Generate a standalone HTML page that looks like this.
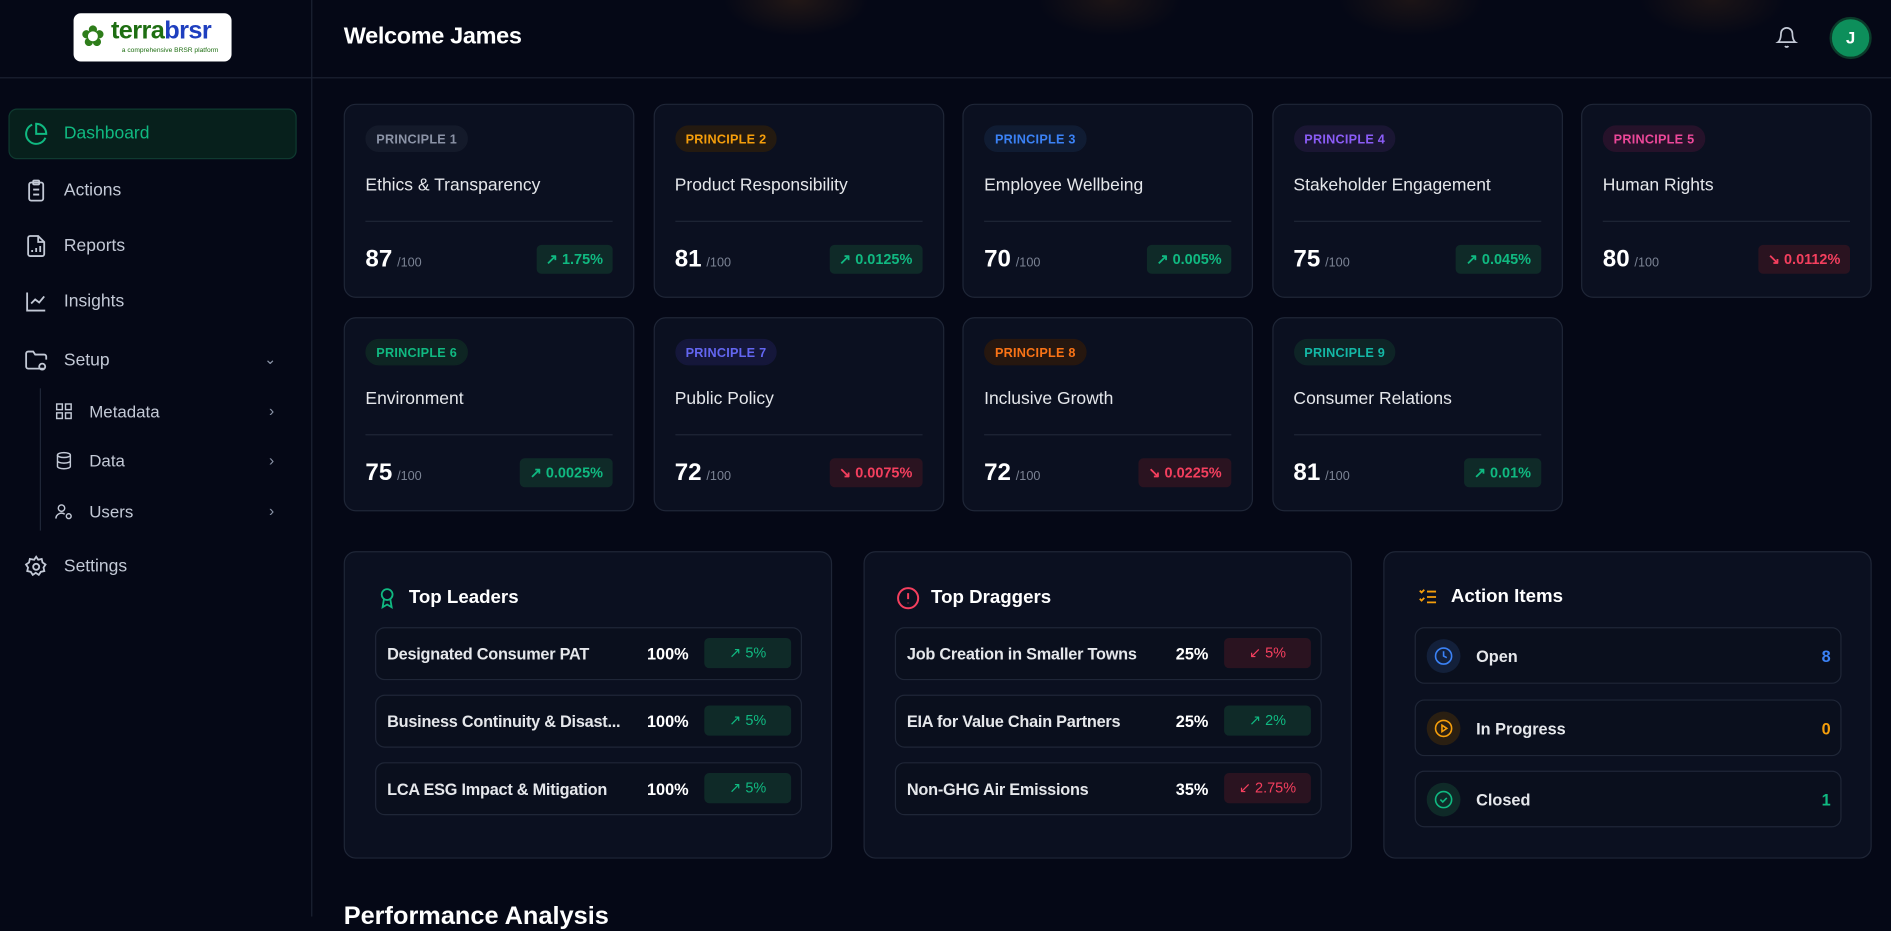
<!DOCTYPE html>
<html><head><meta charset="utf-8">
<style>
*{box-sizing:border-box;margin:0;padding:0}
html,body{width:1891px;height:915px;overflow:hidden;background:#050816;font-family:"Liberation Sans",sans-serif;color:#e5e7eb}
#root{position:absolute;left:0;top:0;width:1568px;height:760px;transform:scale(1.2060);transform-origin:0 0;background:#050816}
.abs{position:absolute}
.side{left:0;top:0;width:259px;height:760px;border-right:1px solid #1c2232}
.hdr{left:259px;top:0;width:1309px;height:65px;border-bottom:1px solid #1c2232}
.sidehdr{left:0;top:0;width:259px;height:65px;border-bottom:1px solid #1c2232}
.nav{position:absolute;left:20px;font-size:14.5px;color:#c3c9d6;display:flex;align-items:center}
.nav svg{margin-right:13px}
.card{position:absolute;width:241px;height:161px;background:#0b1020;border:1px solid #1f2637;border-radius:10px}
.badge{position:absolute;left:17px;top:17px;height:22px;padding:0 8px;border-radius:11px;font-size:10.5px;font-weight:bold;line-height:22px;letter-spacing:.2px}
.ctitle{position:absolute;left:17px;top:59px;font-size:14.5px;color:#e5e7eb}
.div{position:absolute;left:17px;right:17px;top:96px;border-top:1px solid #1f2637}
.score{position:absolute;left:17px;top:117px;font-size:20px;font-weight:bold;color:#fff}
.score span{font-size:10.5px;font-weight:normal;color:#7b8394;margin-left:4px}
.chg{position:absolute;right:17px;top:116px;height:24px;padding:0 8px;border-radius:4px;font-size:12px;font-weight:bold;line-height:24px}
.up{background:#0f2a28;color:#10b981}
.dn{background:#2a1320;color:#f43f5e}
.panel{position:absolute;top:457px;width:405px;height:255px;background:#0b1020;border:1px solid #1f2637;border-radius:10px}
.ptitle{position:absolute;left:26px;top:28px;font-size:15.5px;font-weight:bold;color:#fff;display:flex;align-items:center}
.ptitle svg{margin-right:9px}
.row{position:absolute;left:25px;width:354px;height:44px;border:1px solid #1f2637;border-radius:8px;background:#0a0f1d}
.rname{position:absolute;left:9px;top:14px;font-size:13.5px;font-weight:bold;color:#e5e7eb;white-space:nowrap;letter-spacing:-0.2px}
.rpct{position:absolute;right:93px;top:14px;font-size:13.5px;font-weight:bold;color:#fff}
.rchg{position:absolute;right:8px;top:8px;width:72px;height:25px;border-radius:4px;font-size:12px;line-height:25px;text-align:center}
.arow{position:absolute;left:25px;width:354px;height:47px;border:1px solid #1f2637;border-radius:8px;background:#0a0f1d}
.aic{position:absolute;left:9px;top:9px;width:28px;height:28px;border-radius:14px;display:flex;align-items:center;justify-content:center}
.alab{position:absolute;left:50px;top:16px;font-size:13.5px;font-weight:bold;color:#e5e7eb}
.aval{position:absolute;right:8px;top:16px;font-size:13.5px;font-weight:bold}
</style></head><body>
<div id="root">
<div class="abs" style="left:560px;top:-40px;width:1000px;height:80px;background:radial-gradient(ellipse 60px 30px at 100px 40px,rgba(120,70,20,.25),transparent),radial-gradient(ellipse 60px 30px at 360px 40px,rgba(120,70,20,.2),transparent),radial-gradient(ellipse 60px 30px at 610px 40px,rgba(120,70,20,.2),transparent),radial-gradient(ellipse 60px 30px at 860px 40px,rgba(120,70,20,.2),transparent)"></div>
<div class="abs side"></div>
<div class="abs sidehdr"></div>
<div class="abs" style="left:61px;top:11px;width:131px;height:40px;background:#fff;border-radius:6px">
 <div class="abs" style="left:6px;top:7px;width:22px;height:26px;color:#2e7d1a;font-size:24px;line-height:26px">✿</div>
 <div class="abs" style="left:31px;top:3px;font-size:21px;font-weight:bold;letter-spacing:-0.5px"><span style="color:#1e6e12">terra</span><span style="color:#1f3fbf">brsr</span></div>
 <div class="abs" style="left:40px;top:28px;font-size:5.5px;color:#1e6e12;white-space:nowrap">a comprehensive BRSR platform</div>
</div>
<div class="abs hdr"></div>
<div class="abs" style="left:285px;top:19px;font-size:19.5px;font-weight:bold;color:#fff;letter-spacing:-0.3px">Welcome James</div>
<svg class="abs" style="left:1472px;top:21px" width="19" height="20" viewBox="0 0 24 24" fill="none" stroke="#c3c9d6" stroke-width="1.8"><path d="M6 8a6 6 0 0 1 12 0c0 7 3 9 3 9H3s3-2 3-9"/><path d="M10.3 21a1.9 1.9 0 0 0 3.4 0"/></svg>
<div class="abs" style="left:1517px;top:14px;width:35px;height:35px;border-radius:18px;background:#0d8f5b;border:2px solid #0b3b2a;color:#fff;font-weight:bold;font-size:14px;text-align:center;line-height:31px">J</div>

<div class="abs" style="left:7px;top:90px;width:239px;height:42px;background:#07201c;border:1px solid #0f3a30;border-radius:7px"></div>
<div class="nav" style="top:101px;color:#10b981"><svg width="20" height="20" viewBox="0 0 24 24" fill="none" stroke="#10b981" stroke-width="2"><path d="M21.2 15.9A10 10 0 1 1 8 2.8"/><path d="M22 12A10 10 0 0 0 12 2v10z"/></svg>Dashboard</div>
<div class="nav" style="top:148px"><svg width="20" height="20" viewBox="0 0 24 24" fill="none" stroke="#c3c9d6" stroke-width="1.8"><rect x="5" y="4" width="14" height="18" rx="2"/><rect x="9" y="2" width="6" height="4" rx="1"/><path d="M9 11h6M9 16h6"/></svg>Actions</div>
<div class="nav" style="top:194px"><svg width="20" height="20" viewBox="0 0 24 24" fill="none" stroke="#c3c9d6" stroke-width="1.8"><path d="M14 2H6a2 2 0 0 0-2 2v16a2 2 0 0 0 2 2h12a2 2 0 0 0 2-2V8z"/><path d="M14 2v6h6M8 18v-2M12 18v-4M16 18v-6"/></svg>Reports</div>
<div class="nav" style="top:240px"><svg width="20" height="20" viewBox="0 0 24 24" fill="none" stroke="#c3c9d6" stroke-width="1.8"><path d="M3 3v18h18"/><path d="M7 14l4-4 4 3 5-6"/></svg>Insights</div>
<div class="nav" style="top:289px"><svg width="20" height="20" viewBox="0 0 24 24" fill="none" stroke="#c3c9d6" stroke-width="1.8"><path d="M20 20H4a2 2 0 0 1-2-2V5a2 2 0 0 1 2-2h5l2 3h9a2 2 0 0 1 2 2v3"/><circle cx="18" cy="18" r="3"/></svg>Setup</div>
<div class="abs" style="left:219px;top:291px;color:#8a93a6;font-size:12px">⌄</div>
<div class="abs" style="left:33px;top:322px;width:1px;height:118px;background:#1f2637"></div>
<div class="nav" style="left:45px;top:333px;font-size:14px"><svg width="16" height="16" viewBox="0 0 24 24" fill="none" stroke="#c3c9d6" stroke-width="1.8"><rect x="3" y="3" width="7" height="7"/><rect x="14" y="3" width="7" height="7"/><rect x="3" y="14" width="7" height="7"/><rect x="14" y="14" width="7" height="7"/></svg>Metadata</div>
<div class="nav" style="left:45px;top:374px;font-size:14px"><svg width="16" height="16" viewBox="0 0 24 24" fill="none" stroke="#c3c9d6" stroke-width="1.8"><ellipse cx="12" cy="5" rx="8" ry="3"/><path d="M4 5v14c0 1.7 3.6 3 8 3s8-1.3 8-3V5M4 12c0 1.7 3.6 3 8 3s8-1.3 8-3"/></svg>Data</div>
<div class="nav" style="left:45px;top:416px;font-size:14px"><svg width="16" height="16" viewBox="0 0 24 24" fill="none" stroke="#c3c9d6" stroke-width="1.8"><circle cx="9" cy="8" r="4"/><path d="M2 21a7 7 0 0 1 11-5.5"/><circle cx="18" cy="18" r="3"/></svg>Users</div>
<div class="abs" style="left:223px;top:333px;color:#8a93a6;font-size:13px">›</div>
<div class="abs" style="left:223px;top:374px;color:#8a93a6;font-size:13px">›</div>
<div class="abs" style="left:223px;top:416px;color:#8a93a6;font-size:13px">›</div>
<div class="nav" style="top:460px"><svg width="20" height="20" viewBox="0 0 24 24" fill="none" stroke="#c3c9d6" stroke-width="1.8"><circle cx="12" cy="12" r="3"/><path d="M12 2l2 3 3.5-.8.8 3.5 3 2-2 3 .8 3.5-3.5.8-2 3-3-2-3 2-2-3-3.5-.8.8-3.5-2-3 3-2 .8-3.5L10 5z"/></svg>Settings</div>

<div class="panel" style="left:285px">
 <div class="ptitle"><svg width="18" height="20" viewBox="0 0 24 24" fill="none" stroke="#10b981" stroke-width="2"><circle cx="12" cy="8" r="6"/><path d="M8.5 13L7 22l5-3 5 3-1.5-9"/></svg>Top Leaders</div>
 <div class="row" style="top:62px"><div class="rname">Designated Consumer PAT</div><div class="rpct">100%</div><div class="rchg up">↗ 5%</div></div>
 <div class="row" style="top:118px"><div class="rname">Business Continuity &amp; Disast...</div><div class="rpct">100%</div><div class="rchg up">↗ 5%</div></div>
 <div class="row" style="top:174px"><div class="rname">LCA ESG Impact &amp; Mitigation</div><div class="rpct">100%</div><div class="rchg up">↗ 5%</div></div>
</div>
<div class="panel" style="left:716px">
 <div class="ptitle"><svg width="20" height="20" viewBox="0 0 24 24" fill="none" stroke="#f43f5e" stroke-width="2"><circle cx="12" cy="12" r="10"/><path d="M12 7v6M12 16.5v.5"/></svg>Top Draggers</div>
 <div class="row" style="top:62px"><div class="rname">Job Creation in Smaller Towns</div><div class="rpct">25%</div><div class="rchg dn">↙ 5%</div></div>
 <div class="row" style="top:118px"><div class="rname">EIA for Value Chain Partners</div><div class="rpct">25%</div><div class="rchg up">↗ 2%</div></div>
 <div class="row" style="top:174px"><div class="rname">Non-GHG Air Emissions</div><div class="rpct">35%</div><div class="rchg dn">↙ 2.75%</div></div>
</div>
<div class="panel" style="left:1147px">
 <div class="ptitle"><svg width="20" height="18" viewBox="0 0 24 24" fill="none" stroke="#f59e0b" stroke-width="2"><path d="M3 5l2 2 3-3M3 14l2 2 3-3M11 6h10M11 12h10M11 18h10"/></svg>Action Items</div>
 <div class="arow" style="top:62px"><div class="aic" style="background:#13203a"><svg width="16" height="16" viewBox="0 0 24 24" fill="none" stroke="#3b82f6" stroke-width="2"><circle cx="12" cy="12" r="10"/><path d="M12 6v6l4 2"/></svg></div><div class="alab">Open</div><div class="aval" style="color:#3b82f6">8</div></div>
 <div class="arow" style="top:122px"><div class="aic" style="background:#2a1f12"><svg width="16" height="16" viewBox="0 0 24 24" fill="none" stroke="#f59e0b" stroke-width="2"><circle cx="12" cy="12" r="10"/><path d="M10 8l6 4-6 4z"/></svg></div><div class="alab">In Progress</div><div class="aval" style="color:#f59e0b">0</div></div>
 <div class="arow" style="top:181px"><div class="aic" style="background:#0f2a28"><svg width="16" height="16" viewBox="0 0 24 24" fill="none" stroke="#10b981" stroke-width="2"><circle cx="12" cy="12" r="10"/><path d="M8 12l3 3 5-5"/></svg></div><div class="alab">Closed</div><div class="aval" style="color:#10b981">1</div></div>
</div>
<div class="abs" style="left:285px;top:748px;font-size:21px;font-weight:bold;color:#fff">Performance Analysis</div>
</div>
<script>
const principles=["PRINCIPLE 1","PRINCIPLE 2","PRINCIPLE 3","PRINCIPLE 4","PRINCIPLE 5","PRINCIPLE 6","PRINCIPLE 7","PRINCIPLE 8","PRINCIPLE 9"];
const titles=["Ethics & Transparency","Product Responsibility","Employee Wellbeing","Stakeholder Engagement","Human Rights","Environment","Public Policy","Inclusive Growth","Consumer Relations"];
const scores=[87,81,70,75,80,75,72,72,81];
const changes=["1.75%","0.0125%","0.005%","0.045%","0.0112%","0.0025%","0.0075%","0.0225%","0.01%"];
const dirs=[1,1,1,1,-1,1,-1,-1,1];
const colors=["#8b93a6","#f59e0b","#3b82f6","#8b5cf6","#ec4899","#10b981","#6366f1","#f97316","#14b8a6"];
const bgs=["#141a2a","#241a10","#101c33","#1a1633","#26122a","#0e2523","#15173a","#26170f","#0e2426"];
const root=document.getElementById('root');
principles.forEach((p,i)=>{
 const c=document.createElement('div');
 c.className='card';
 
 
 const col=i%5,row=Math.floor(i/5);
 c.style.left=(285+col*256.5)+'px';
 c.style.top=(86+row*177)+'px';
 c.innerHTML='<div class="badge" style="color:'+colors[i]+';background:'+bgs[i]+';border:1px solid '+bgs[i]+'">'+p+'</div>'+
 '<div class="ctitle"></div><div class="div"></div>'+
 '<div class="score">'+scores[i]+'<span>/100</span></div>'+
 '<div class="chg '+(dirs[i]>0?'up':'dn')+'">'+(dirs[i]>0?'↗ ':'↘ ')+changes[i]+'</div>';
 c.querySelector('.ctitle').textContent=titles[i];
 root.appendChild(c);
});
</script>
</body></html>
